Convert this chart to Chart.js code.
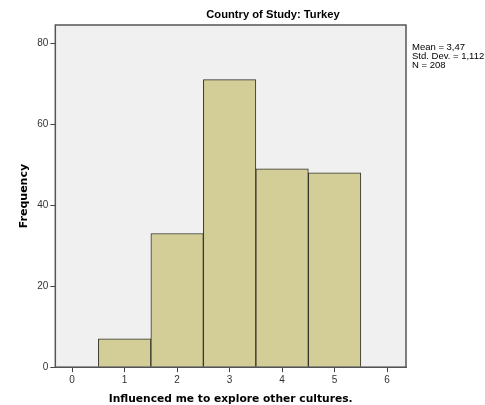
<!DOCTYPE html>
<html>
<head>
<meta charset="utf-8">
<script src="https://cdn.jsdelivr.net/npm/chart.js@4"></script>
<style>
  body { margin: 0; background: #fff; }
  #wrap { width: 485px; height: 405px; }
</style>
</head>
<body>
<div id="wrap"><canvas id="grafico-hist" width="485" height="405"></canvas></div>
<script>
const categorias = [1, 2, 3, 4, 5];
const frequencias = [7, 33, 71, 49, 48];
const xTicks = [0, 1, 2, 3, 4, 5, 6];
const yTicks = [0, 20, 40, 60, 80];
const titulo = 'Country of Study: Turkey';
const estatisticas = ['Mean = 3,47', 'Std. Dev. = 1,112', 'N = 208'];

// fundo cinza e moldura da area do grafico, titulo e texto das estatisticas
const moldura = {
    id: 'moldura',
    beforeDraw: function(chart) {
        const a = chart.chartArea;
        const c = chart.ctx;
        c.save();
        c.fillStyle = '#f0f0f0';
        c.fillRect(a.left, a.top, a.right - a.left, a.bottom - a.top);
        c.restore();
    },
    afterDraw: function(chart) {
        const a = chart.chartArea;
        const c = chart.ctx;
        c.save();
        c.strokeStyle = '#555';
        c.lineWidth = 1.5;
        c.strokeRect(a.left, a.top, a.right - a.left, a.bottom - a.top);
        c.fillStyle = '#000';
        c.font = 'bold 11.2px Arial, "Liberation Sans"';
        c.textAlign = 'center';
        c.textBaseline = 'middle';
        c.fillText(titulo, 273, 15);
        c.font = '9.5px Arial, "Liberation Sans"';
        c.textAlign = 'left';
        c.textBaseline = 'top';
        estatisticas.forEach(function(t, i) {
            c.fillText(t, a.right + 6, a.top + 18 + i * 8.7);
        });
        c.restore();
    }
};

const ctx = document.getElementById('grafico-hist').getContext('2d');
const grafico = new Chart(ctx, {
    type: 'bar',
    data: {
        datasets: [{
            data: categorias.map(function(v, i) { return {x: v, y: frequencias[i]}; }),
            backgroundColor: '#d3ce97',
            borderColor: '#33332a',
            borderWidth: 1,
            barPercentage: 1,
            categoryPercentage: 1
        }]
    },
    options: {
        responsive: false,
        animation: false,
        layout: {
            padding: {left: 14, right: 79, top: 25, bottom: -5}
        },
        plugins: {
            legend: {display: false},
            tooltip: {enabled: false},
            title: {display: false}
        },
        scales: {
            x: {
                type: 'linear',
                min: -0.32,
                max: 6.36,
                offset: false,
                afterBuildTicks: function(scale) {
                    scale.ticks = xTicks.map(function(v) { return {value: v}; });
                },
                grid: {offset: false, drawOnChartArea: false, drawTicks: true, tickLength: 5, color: '#444'},
                border: {display: true, color: '#555'},
                ticks: {color: '#333', font: {family: 'Arial, "Liberation Sans"', size: 10}, padding: 2},
                title: {
                    display: true,
                    text: 'Influenced me to explore other cultures.',
                    color: '#000',
                    font: {family: '"DejaVu Sans", Verdana', size: 10.7, weight: 'bold'},
                    padding: {top: 5}
                }
            },
            y: {
                min: 0,
                max: 84.5,
                afterBuildTicks: function(scale) {
                    scale.ticks = yTicks.map(function(v) { return {value: v}; });
                },
                grid: {drawOnChartArea: false, drawTicks: true, tickLength: 5, color: '#444'},
                border: {display: true, color: '#555'},
                ticks: {color: '#333', font: {family: 'Arial, "Liberation Sans"', size: 10}, padding: 2},
                title: {
                    display: true,
                    text: 'Frequency',
                    color: '#000',
                    font: {family: '"DejaVu Sans", Verdana', size: 11, weight: 'bold'},
                    padding: {bottom: 4}
                }
            }
        }
    },
    plugins: [moldura]
});
</script>
</body>
</html>
